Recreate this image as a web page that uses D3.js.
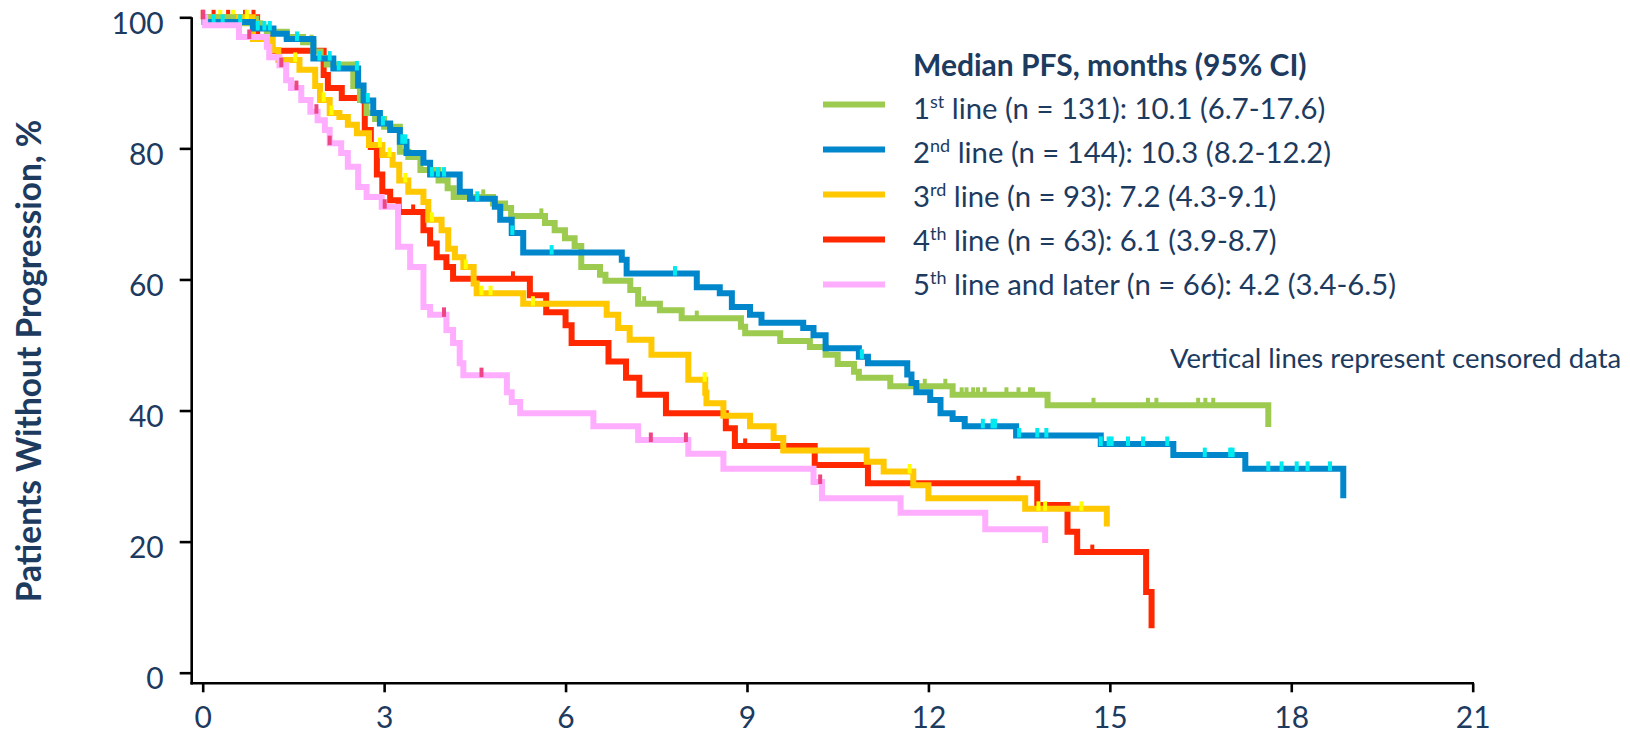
<!DOCTYPE html>
<html>
<head>
<meta charset="utf-8">
<script src="https://cdn.jsdelivr.net/npm/d3@7"></script>
<style>
  html, body { margin: 0; padding: 0; background: #fff; }
  svg { display: block; font-family: Lato, "Open Sans", sans-serif; }
</style>
</head>
<body>
<div id="chart"></div>
<script>
// axis ticks (months / %)
const xTicks = [0, 3, 6, 9, 12, 15, 18, 21];
const yTicks = [0, 20, 40, 60, 80, 100];

// Kaplan-Meier steps: time of drop (months) and value after the drop (%)
const firstTimes = [0.5, 0.95, 1.06, 1.39, 1.66, 1.83, 1.95, 2.05, 2.49, 2.6, 2.71, 2.85, 3.0, 3.26, 3.4, 3.6, 3.9, 4.05, 4.15, 4.8, 5.0, 5.1, 5.66, 5.82, 5.99, 6.15, 6.26, 6.57, 6.66, 7.07, 7.2, 7.56, 7.92, 8.9, 8.97, 9.55, 10.04, 10.3, 10.5, 10.77, 10.85, 11.37, 12.4, 13.97, 17.62];
const firstSurv = [99.1, 98.5, 97.8, 97.0, 96.2, 94.8, 93.8, 92.8, 89.5, 87.4, 85.4, 84.5, 83.3, 79.5, 78.7, 76.7, 75.1, 73.9, 72.6, 71.6, 70.9, 69.7, 68.6, 67.5, 66.3, 65.1, 61.9, 60.7, 59.8, 58.4, 56.3, 55.3, 54.1, 52.8, 51.8, 50.6, 49.7, 48.5, 47.1, 45.9, 45.0, 43.7, 42.4, 40.8, 37.5];
const firstCensor = [0.9, 1.8, 2.55, 4.64, 5.6, 7.3, 8.17, 11.94, 12.28, 12.55, 12.63, 12.74, 12.82, 12.93, 13.29, 13.49, 13.68, 13.73, 14.73, 15.63, 15.77, 16.46, 16.58, 16.71];

const secondTimes = [0.03, 0.83, 1.17, 1.39, 1.83, 2.16, 2.57, 2.66, 2.82, 2.93, 3.1, 3.26, 3.37, 3.65, 3.76, 4.25, 4.42, 4.83, 4.92, 5.11, 5.3, 6.93, 7.01, 8.17, 8.55, 8.75, 9.05, 9.24, 9.93, 10.1, 10.3, 10.85, 11.0, 11.65, 11.72, 11.8, 12.03, 12.2, 12.4, 12.6, 13.45, 14.85, 16.05, 17.24, 18.86];
const secondSurv = [99.3, 98.3, 97.5, 96.7, 93.7, 92.2, 89.6, 87.3, 85.4, 83.8, 82.8, 81.0, 79.3, 77.8, 76.0, 73.4, 72.3, 71.1, 69.1, 67.1, 64.1, 63.0, 60.9, 58.8, 57.9, 55.8, 54.6, 53.4, 52.6, 51.5, 49.5, 48.2, 47.2, 45.5, 44.2, 42.8, 41.6, 39.6, 38.7, 37.6, 36.2, 34.9, 33.2, 31.1, 26.6];
const secondCensor = [0.18, 0.33, 0.62, 0.91, 1.02, 1.11, 1.56, 1.93, 2.1, 2.25, 2.55, 2.73, 2.98, 3.3, 3.35, 3.79, 3.89, 3.99, 4.54, 5.12, 5.77, 7.81, 10.9, 12.9, 13.06, 13.1, 13.5, 13.8, 13.95, 14.85, 14.98, 15.03, 15.3, 15.55, 15.95, 16.57, 16.99, 17.03, 17.62, 17.84, 18.09, 18.27, 18.64];

const thirdTimes = [0.83, 1.15, 1.25, 1.6, 1.86, 1.94, 2.1, 2.26, 2.4, 2.55, 2.75, 2.97, 3.14, 3.25, 3.4, 3.65, 3.73, 3.95, 4.06, 4.17, 4.31, 4.48, 4.53, 5.3, 6.68, 6.87, 7.06, 7.42, 8.03, 8.31, 8.33, 8.61, 9.05, 9.44, 9.6, 10.98, 11.26, 11.75, 12.0, 13.6, 14.95];
const thirdSurv = [96.7, 95.0, 93.5, 92.0, 89.5, 87.4, 85.4, 84.8, 83.6, 82.3, 80.5, 79.0, 77.5, 75.1, 73.4, 71.8, 69.1, 67.5, 64.7, 63.4, 61.9, 59.4, 57.9, 56.3, 54.6, 52.6, 50.8, 48.5, 44.7, 42.7, 41.1, 39.2, 37.6, 35.8, 33.9, 32.2, 30.7, 28.6, 26.6, 25.0, 22.3];
const thirdCensor = [0.29, 0.5, 0.73, 1.53, 2.0, 2.13, 2.93, 3.09, 3.35, 3.79, 4.35, 4.61, 4.76, 5.46, 8.3, 11.69, 13.82, 13.93, 14.53];

const fourthTimes = [0.9, 1.15, 2.0, 2.07, 2.3, 2.68, 2.78, 2.88, 2.97, 3.1, 3.24, 3.65, 3.76, 3.87, 4.03, 4.14, 5.41, 5.68, 6.0, 6.1, 6.71, 7.0, 7.22, 7.66, 8.65, 8.8, 10.12, 11.0, 13.8, 14.3, 14.46, 15.6, 15.69];
const fourthSurv = [96.8, 94.9, 91.2, 89.2, 87.7, 82.8, 80.2, 76.0, 73.4, 72.1, 70.3, 67.5, 65.5, 63.4, 61.9, 60.1, 57.6, 55.0, 53.0, 50.3, 47.5, 45.0, 42.4, 39.6, 37.3, 34.6, 31.7, 28.9, 25.6, 21.5, 18.4, 12.3, 6.8];
const fourthCensor = [0.0, 0.18, 0.42, 0.7, 0.84, 3.48, 5.13, 8.97, 13.49, 14.71];

const fifthTimes = [0.04, 0.6, 1.06, 1.1, 1.27, 1.38, 1.46, 1.63, 1.78, 1.9, 2.02, 2.1, 2.29, 2.4, 2.57, 2.71, 2.96, 3.23, 3.43, 3.65, 3.76, 4.03, 4.14, 4.25, 4.31, 5.03, 5.11, 5.25, 6.46, 7.2, 8.03, 8.61, 10.1, 10.24, 11.54, 12.94, 13.93];
const fifthSurv = [98.8, 97.0, 95.5, 93.9, 92.7, 90.4, 89.2, 87.4, 85.6, 84.3, 82.8, 80.8, 79.3, 77.2, 74.1, 72.6, 71.1, 65.0, 61.9, 55.8, 54.6, 52.3, 50.3, 47.2, 45.4, 42.8, 41.3, 39.6, 37.6, 35.5, 33.4, 31.1, 29.1, 26.6, 24.4, 21.9, 19.8];
const fifthCensor = [0.01, 0.77, 1.3, 1.55, 1.88, 2.1, 3.01, 3.99, 4.61, 7.41, 7.99, 10.21];

// legend
const legendTitle = "Median PFS, months (95% CI)";
const legendNum = ["1", "2", "3", "4", "5"];
const legendSup = ["st", "nd", "rd", "th", "th"];
const legendRest = [
  " line (n = 131): 10.1 (6.7-17.6)",
  " line (n = 144): 10.3 (8.2-12.2)",
  " line (n = 93): 7.2 (4.3-9.1)",
  " line (n = 63): 6.1 (3.9-8.7)",
  " line and later (n = 66): 4.2 (3.4-6.5)"
];
const noteText = "Vertical lines represent censored data";
const yTitle = "Patients Without Progression, %";

const navy = "#1d3a5f";

const series = [
  { times: firstTimes, surv: firstSurv, censor: firstCensor, color: "#9ccb50", mark: "#9ccb50" },
  { times: secondTimes, surv: secondSurv, censor: secondCensor, color: "#0086cb", mark: "#00eaf0" },
  { times: thirdTimes, surv: thirdSurv, censor: thirdCensor, color: "#ffc800", mark: "#ffff00" },
  { times: fourthTimes, surv: fourthSurv, censor: fourthCensor, color: "#ff2800", mark: "#ff2800" },
  { times: fifthTimes, surv: fifthSurv, censor: fifthCensor, color: "#ffaeff", mark: "#ee4585" }
];

const width = 1630, height = 734;
const svg = d3.select("#chart").append("svg")
    .attr("width", width)
    .attr("height", height);

const x = d3.scaleLinear().domain([0, 21]).range([202.7, 1472.7]);
const y = d3.scaleLinear().domain([0, 100]).range([672.7, 17.3]);
const axisLeftX = 191.7, axisBottomY = 683.3;

// x axis
const gx = svg.append("g")
    .attr("transform", `translate(0,${axisBottomY})`)
    .call(d3.axisBottom(x).tickValues(xTicks).tickSize(9).tickSizeOuter(0));
gx.select(".domain").remove();
gx.append("line")
    .attr("x1", axisLeftX - 1.3).attr("x2", x(21) + 1.3)
    .attr("stroke", "#000").attr("stroke-width", 2.6);
gx.selectAll(".tick line").attr("stroke", "#000").attr("stroke-width", 2.6);
gx.selectAll(".tick text")
    .attr("y", 44.5).attr("dy", 0)
    .attr("fill", navy)
    .style("font-size", "30px")
    .style("font-family", "Lato");

// y axis
const gy = svg.append("g")
    .attr("transform", `translate(${axisLeftX},0)`)
    .call(d3.axisLeft(y).tickValues(yTicks).tickSize(12).tickSizeOuter(0));
gy.select(".domain").remove();
gy.append("line")
    .attr("y1", y(100)).attr("y2", axisBottomY + 1.3)
    .attr("stroke", "#000").attr("stroke-width", 2.6);
gy.selectAll(".tick line").attr("stroke", "#000").attr("stroke-width", 2.6);
gy.selectAll(".tick text")
    .attr("x", -28).attr("dy", 16)
    .attr("fill", navy)
    .style("font-size", "30px")
    .style("font-family", "Lato");

svg.append("text")
    .attr("transform", "translate(41,361) rotate(-90)")
    .attr("text-anchor", "middle")
    .attr("fill", navy)
    .style("font-size", "33.5px")
    .style("font-weight", "bold")
    .text(yTitle);

// curves
const line = d3.line()
    .x(d => x(d[0]))
    .y(d => y(d[1]))
    .curve(d3.curveStepAfter);

function valueAt(s, t) {
  let v = 100;
  s.times.forEach((tt, i) => { if (tt <= t) v = s.surv[i]; });
  return v;
}

const drawOrder = [3, 2, 0, 1, 4];
drawOrder.forEach(k => {
  const s = series[k];
  const pts = [[0, 100]].concat(s.times.map((t, i) => [t, s.surv[i]]));
  svg.append("path")
      .attr("d", line(pts))
      .attr("fill", "none")
      .attr("stroke", s.color)
      .attr("stroke-width", 6);
  svg.append("g").selectAll("rect")
    .data(s.censor)
    .join("rect")
      .attr("x", d => x(d) - 2)
      .attr("y", d => y(valueAt(s, d)) - 7.5)
      .attr("width", 4)
      .attr("height", 9.5)
      .attr("fill", s.mark);
});

// legend
const lg = svg.append("g");
lg.append("text")
    .attr("x", 913).attr("y", 76)
    .attr("fill", navy)
    .style("font-size", "30px")
    .style("font-weight", "bold")
    .text(legendTitle);

series.forEach((s, i) => {
  lg.append("line")
      .attr("x1", 823).attr("x2", 885)
      .attr("y1", 104.5 + 45 * i).attr("y2", 104.5 + 45 * i)
      .attr("stroke", s.color)
      .attr("stroke-width", 6);
  const t = lg.append("text")
      .attr("x", 913).attr("y", 119 + 44 * i)
      .attr("fill", navy)
      .style("font-size", "29.3px");
  t.append("tspan").text(legendNum[i]);
  t.append("tspan").attr("dy", -11.5).style("font-size", "18px").text(legendSup[i]);
  t.append("tspan").attr("dy", 11.5).text(legendRest[i]);
});

svg.append("text")
    .attr("x", 1170).attr("y", 368)
    .attr("fill", navy)
    .style("font-size", "27.5px")
    .text(noteText);
</script>
</body>
</html>
